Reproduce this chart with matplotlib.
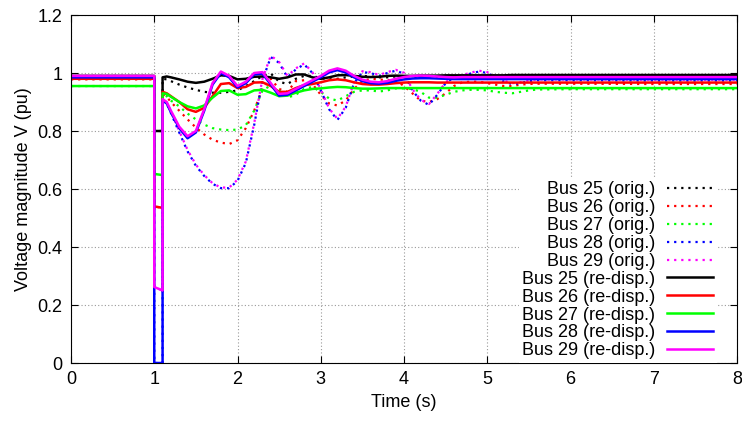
import numpy as np
import matplotlib
matplotlib.use("Agg")
import matplotlib.pyplot as plt

plt.rcParams['font.family'] = ['Liberation Sans', 'DejaVu Sans']

# time axis (s)
t = [0.0, 1.0, 1.0, 1.1, 1.1, 1.15, 1.2, 1.3, 1.4, 1.5,
     1.6, 1.7, 1.8, 1.9, 2.0, 2.1, 2.2, 2.3, 2.4, 2.5,
     2.6, 2.7, 2.8, 2.9, 3.0, 3.1, 3.2, 3.3, 3.4, 3.5,
     3.6, 3.7, 3.8, 3.9, 4.0, 4.1, 4.2, 4.3, 4.4, 4.5,
     4.6, 4.7, 4.8, 4.9, 5.0, 5.1, 5.2, 5.3, 5.4, 5.5,
     5.6, 6.0, 7.0, 8.0]

# original dispatch
bus25_orig = [0.985, 0.985, 0.80, 0.80, 0.98, 0.978, 0.972, 0.96, 0.95, 0.942,
              0.935, 0.932, 0.932, 0.935, 0.94, 0.955, 0.972, 0.99, 0.998, 0.97,
              0.962, 0.98, 0.99, 0.99, 0.982, 0.978, 0.98, 0.985, 0.988, 0.99,
              0.988, 0.985, 0.985, 0.988, 0.99, 0.988, 0.986, 0.985, 0.986, 0.987,
              0.987, 0.986, 0.986, 0.987, 0.987, 0.986, 0.986, 0.986, 0.986, 0.986,
              0.986, 0.986, 0.986, 0.986]
bus26_orig = [0.978, 0.978, 0.54, 0.535, 0.93, 0.918, 0.90, 0.87, 0.84, 0.812,
              0.788, 0.77, 0.76, 0.755, 0.768, 0.81, 0.87, 0.948, 0.98, 0.945,
              0.935, 0.972, 0.975, 0.962, 0.925, 0.895, 0.888, 0.905, 0.945, 0.972,
              0.98, 0.978, 0.975, 0.975, 0.955, 0.93, 0.905, 0.90, 0.91, 0.93,
              0.955, 0.968, 0.97, 0.97, 0.965, 0.96, 0.955, 0.955, 0.96, 0.962,
              0.963, 0.963, 0.962, 0.962]
bus27_orig = [0.955, 0.955, 0.652, 0.648, 0.925, 0.92, 0.905, 0.885, 0.86, 0.84,
              0.822, 0.81, 0.805, 0.803, 0.805, 0.82, 0.87, 0.94, 0.957, 0.94,
              0.915, 0.925, 0.945, 0.952, 0.935, 0.912, 0.905, 0.92, 0.935, 0.94,
              0.94, 0.936, 0.94, 0.947, 0.947, 0.945, 0.935, 0.915, 0.915, 0.925,
              0.935, 0.94, 0.942, 0.942, 0.94, 0.935, 0.932, 0.93, 0.935, 0.94,
              0.943, 0.944, 0.944, 0.944]
bus28_orig = [0.985, 0.985, 0.0, 0.0, 0.905, 0.895, 0.862, 0.795, 0.73, 0.68,
              0.645, 0.618, 0.603, 0.603, 0.628, 0.69, 0.82, 0.975, 1.055, 1.035,
              0.985, 1.012, 1.03, 1.0, 0.94, 0.875, 0.838, 0.88, 0.965, 1.003,
              1.0, 0.99, 1.0, 1.008, 0.998, 0.94, 0.905, 0.89, 0.925, 0.965,
              0.985, 0.99, 0.998, 1.005, 1.0, 0.985, 0.97, 0.962, 0.965, 0.972,
              0.975, 0.975, 0.974, 0.974]
bus29_orig = [0.99, 0.99, 0.262, 0.25, 0.908, 0.898, 0.866, 0.80, 0.735, 0.684,
              0.648, 0.62, 0.605, 0.605, 0.632, 0.695, 0.826, 0.98, 1.06, 1.038,
              0.99, 1.016, 1.033, 1.003, 0.944, 0.878, 0.842, 0.884, 0.968, 1.006,
              1.003, 0.993, 1.003, 1.011, 1.001, 0.944, 0.908, 0.893, 0.928, 0.968,
              0.988, 0.993, 1.001, 1.008, 1.003, 0.988, 0.973, 0.965, 0.968, 0.975,
              0.978, 0.978, 0.977, 0.977]

# after re-dispatch
bus25_new = [0.99, 0.99, 0.80, 0.80, 0.985, 0.988, 0.985, 0.978, 0.97, 0.966,
             0.97, 0.98, 0.992, 0.99, 0.978, 0.98, 0.987, 0.988, 0.985, 0.98,
             0.985, 0.995, 0.995, 0.985, 0.98, 0.985, 0.992, 0.993, 0.99, 0.987,
             0.986, 0.987, 0.99, 0.991, 0.99, 0.99, 0.991, 0.991, 0.991, 0.992,
             0.992, 0.992, 0.992, 0.992, 0.992, 0.992, 0.992, 0.993, 0.993, 0.993,
             0.993, 0.993, 0.993, 0.993]
bus26_new = [0.98, 0.98, 0.54, 0.535, 0.935, 0.93, 0.92, 0.90, 0.875, 0.866,
             0.88, 0.92, 0.962, 0.965, 0.948, 0.952, 0.967, 0.968, 0.955, 0.935,
             0.935, 0.948, 0.958, 0.962, 0.968, 0.975, 0.978, 0.975, 0.968, 0.962,
             0.96, 0.96, 0.962, 0.965, 0.967, 0.968, 0.968, 0.968, 0.967, 0.967,
             0.967, 0.967, 0.967, 0.967, 0.967, 0.967, 0.967, 0.967, 0.967, 0.967,
             0.967, 0.967, 0.967, 0.967]
bus27_new = [0.955, 0.955, 0.652, 0.648, 0.93, 0.928, 0.918, 0.90, 0.885, 0.878,
             0.888, 0.915, 0.938, 0.94, 0.925, 0.927, 0.94, 0.942, 0.932, 0.92,
             0.922, 0.932, 0.94, 0.945, 0.947, 0.95, 0.952, 0.951, 0.948, 0.946,
             0.946, 0.947, 0.948, 0.948, 0.948, 0.948, 0.948, 0.948, 0.948, 0.948,
             0.948, 0.948, 0.948, 0.948, 0.948, 0.948, 0.948, 0.948, 0.948, 0.948,
             0.948, 0.948, 0.948, 0.948]
bus28_new = [0.985, 0.985, 0.0, 0.0, 0.905, 0.895, 0.865, 0.81, 0.775, 0.795,
             0.87, 0.96, 1.0, 0.985, 0.95, 0.965, 0.995, 0.998, 0.96, 0.922,
             0.925, 0.94, 0.955, 0.97, 0.985, 1.002, 1.01, 1.002, 0.985, 0.972,
             0.965, 0.963, 0.966, 0.973, 0.978, 0.981, 0.982, 0.982, 0.981, 0.98,
             0.979, 0.979, 0.979, 0.979, 0.979, 0.979, 0.979, 0.979, 0.979, 0.979,
             0.979, 0.979, 0.979, 0.979]
bus29_new = [0.99, 0.99, 0.262, 0.25, 0.91, 0.90, 0.87, 0.815, 0.782, 0.80,
             0.875, 0.965, 1.005, 0.99, 0.955, 0.97, 1.0, 1.003, 0.965, 0.928,
             0.93, 0.945, 0.96, 0.975, 0.99, 1.008, 1.016, 1.008, 0.99, 0.977,
             0.97, 0.968, 0.972, 0.98, 0.986, 0.99, 0.991, 0.99, 0.988, 0.986,
             0.985, 0.986, 0.986, 0.986, 0.986, 0.986, 0.986, 0.986, 0.986, 0.986,
             0.986, 0.986, 0.986, 0.986]

buses = ["25", "26", "27", "28", "29"]
colors = ["#000000", "#ff0000", "#00ff00", "#0000ff", "#ff00ff"]
orig = [bus25_orig, bus26_orig, bus27_orig, bus28_orig, bus29_orig]
new = [bus25_new, bus26_new, bus27_new, bus28_new, bus29_new]

xticks = [0, 1, 2, 3, 4, 5, 6, 7, 8]
yticks = [0, 0.2, 0.4, 0.6, 0.8, 1.0, 1.2]
ylabels = ["0", "0.2", "0.4", "0.6", "0.8", "1", "1.2"]

fig = plt.figure(figsize=(7.42, 4.21), dpi=100)
ax = fig.add_axes([71/742, 58/421, 666/742, 348/421])

for b, c, v in zip(buses, colors, orig):
    ax.plot(t, v, color=c, lw=1.6, linestyle=(0, (1, 2.2)),
            label="Bus %s (orig.)" % b)
for b, c, v in zip(buses, colors, new):
    ax.plot(t, v, color=c, lw=1.8, label="Bus %s (re-disp.)" % b)

ax.set_xlim(0, 8)
ax.set_ylim(0, 1.2)
ax.set_xticks(xticks)
ax.set_xticklabels([str(x) for x in xticks])
ax.set_yticks(yticks)
ax.set_yticklabels(ylabels)
ax.tick_params(direction='in', top=True, right=True, length=5, labelsize=13, pad=6)
ax.grid(True, color='#999999', linestyle=(0, (1, 2)), lw=0.8)
ax.set_axisbelow(True)
ax.set_xlabel("Time (s)", fontsize=13, labelpad=4)
ax.set_ylabel("Voltage magnitude V (pu)", fontsize=13, labelpad=4)

# markerfirst=False right-aligns the rows, like gnuplot's key
leg = ax.legend(loc='lower right', bbox_to_anchor=(0.97, 0.0),
                markerfirst=False, fontsize=13, handlelength=2.55,
                handletextpad=0.66, labelspacing=0.05, borderpad=0.2,
                borderaxespad=0, fancybox=False, framealpha=1,
                edgecolor='none')

fig.savefig("out.png", dpi=100)
